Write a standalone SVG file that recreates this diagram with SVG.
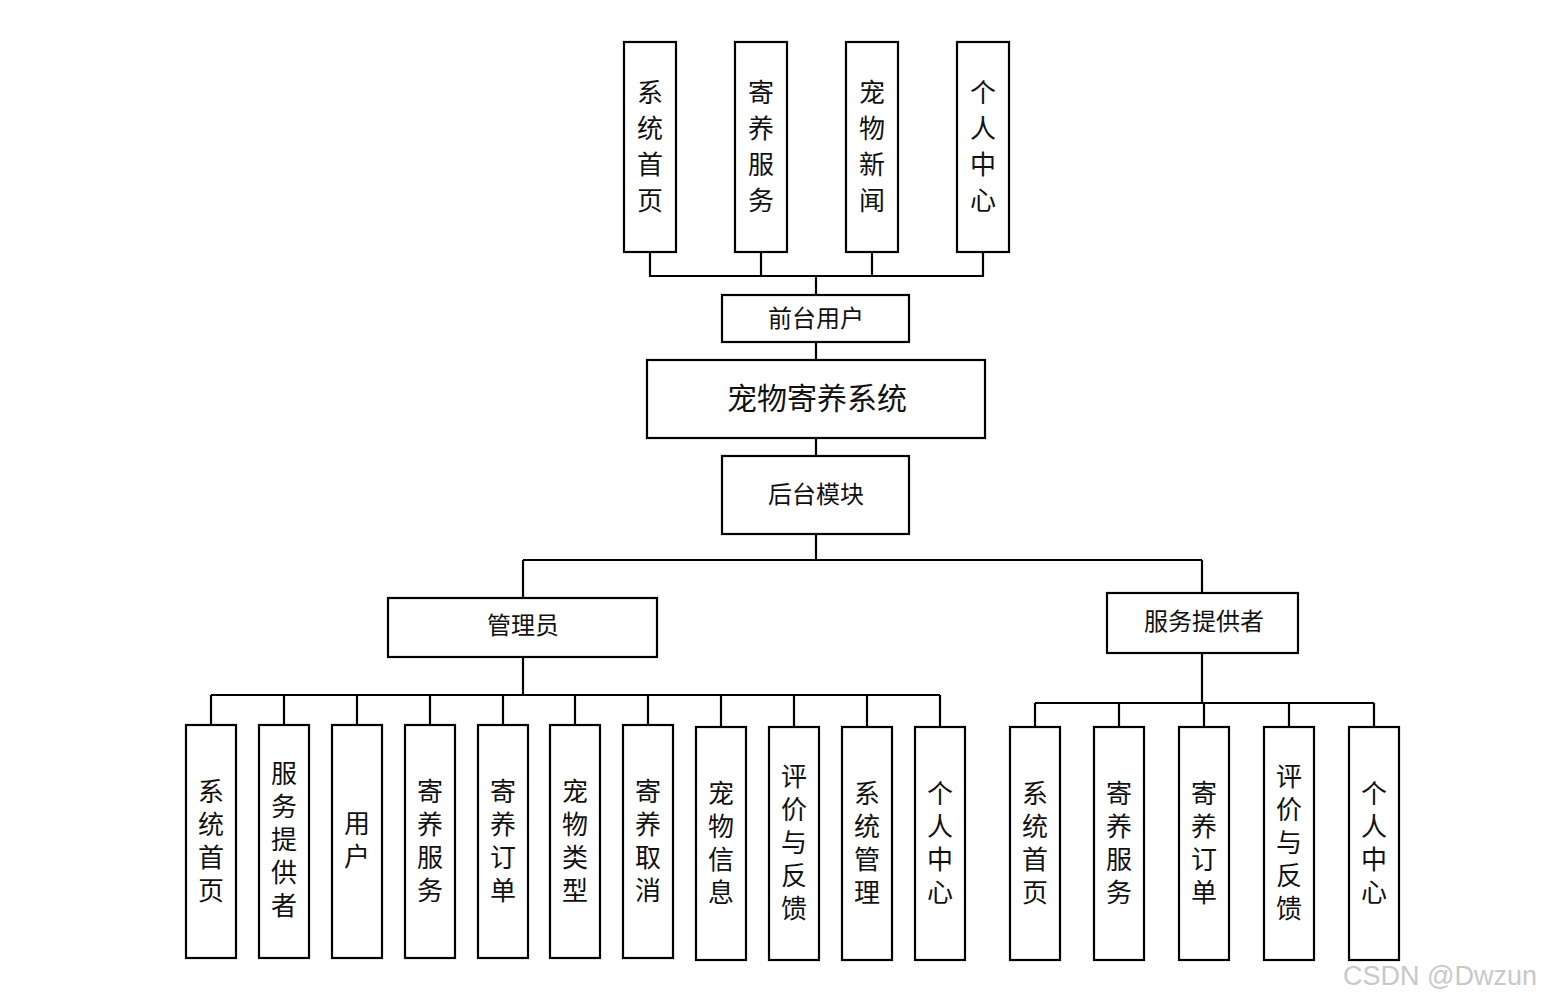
<svg xmlns="http://www.w3.org/2000/svg" width="1541" height="1003" viewBox="0 0 1541 1003">
<style>
.box{fill:#fff;stroke:#000;stroke-width:2.2}
.ln{fill:none;stroke:#000;stroke-width:2.2}
.t{font-family:"Noto Sans CJK SC","Noto Sans CJK JP",sans-serif;fill:#111;text-anchor:middle}
.h{font-size:24px;dominant-baseline:central}
.big{font-size:30px;dominant-baseline:central}
.vt{font-size:26px;writing-mode:vertical-rl;letter-spacing:10px}
.vb{font-size:26px;writing-mode:vertical-rl;letter-spacing:7px}
.wm{font-family:"Liberation Sans",Arial,sans-serif;font-size:27px;fill:#c8c8c8}
</style>
<rect width="1541" height="1003" fill="#fff"/>
<g id="connectors">
<path class="ln" d="M650 252V276H983V252M761 252V276M872 252V276M816 276V295"/>
<path class="ln" d="M816 342V360M816 438V456M816 534V560M523 560H1202M523 560V598M1202 560V593"/>
<path class="ln" d="M523 657V695M211 695H940M211 695V725M284 695V725M357 695V725M430 695V725M503 695V725M575 695V725M648 695V725M721 695V727M794 695V727M867 695V727M940 695V727"/>
<path class="ln" d="M1202 653V703M1035 703H1374M1035 703V727M1119 703V727M1204 703V727M1289 703V727M1374 703V727"/>
</g>
<g id="top1"><rect class="box" x="624" y="42" width="52" height="210"/><text class="t vt" x="650" y="151">系统首页</text></g>
<g id="top2"><rect class="box" x="735" y="42" width="52" height="210"/><text class="t vt" x="761" y="151">寄养服务</text></g>
<g id="top3"><rect class="box" x="846" y="42" width="52" height="210"/><text class="t vt" x="872" y="151">宠物新闻</text></g>
<g id="top4"><rect class="box" x="957" y="42" width="52" height="210"/><text class="t vt" x="983" y="151">个人中心</text></g>
<g id="front"><rect class="box" x="722" y="295" width="187" height="47"/><text class="t h" x="816" y="316">前台用户</text></g>
<g id="system"><rect class="box" x="647" y="360" width="338" height="78"/><text class="t big" x="817" y="396">宠物寄养系统</text></g>
<g id="backend"><rect class="box" x="722" y="456" width="187" height="78"/><text class="t h" x="816" y="492">后台模块</text></g>
<g id="admin"><rect class="box" x="388" y="598" width="269" height="59"/><text class="t h" x="523" y="623">管理员</text></g>
<g id="provider"><rect class="box" x="1107" y="593" width="191" height="60"/><text class="t h" x="1204" y="619">服务提供者</text></g>
<g id="a1"><rect class="box" x="186" y="725" width="50" height="233"/><text class="t vb" x="211" y="844">系统首页</text></g>
<g id="a2"><rect class="box" x="259" y="725" width="50" height="233"/><text class="t vb" x="284" y="843">服务提供者</text></g>
<g id="a3"><rect class="box" x="332" y="725" width="50" height="233"/><text class="t vb" x="357" y="843">用户</text></g>
<g id="a4"><rect class="box" x="405" y="725" width="50" height="233"/><text class="t vb" x="430" y="844">寄养服务</text></g>
<g id="a5"><rect class="box" x="478" y="725" width="50" height="233"/><text class="t vb" x="503" y="844">寄养订单</text></g>
<g id="a6"><rect class="box" x="550" y="725" width="50" height="233"/><text class="t vb" x="575" y="844">宠物类型</text></g>
<g id="a7"><rect class="box" x="623" y="725" width="50" height="233"/><text class="t vb" x="648" y="844">寄养取消</text></g>
<g id="a8"><rect class="box" x="696" y="727" width="50" height="233"/><text class="t vb" x="721" y="846">宠物信息</text></g>
<g id="a9"><rect class="box" x="769" y="727" width="50" height="233"/><text class="t vb" x="794" y="846">评价与反馈</text></g>
<g id="a10"><rect class="box" x="842" y="727" width="50" height="233"/><text class="t vb" x="867" y="846">系统管理</text></g>
<g id="a11"><rect class="box" x="915" y="727" width="50" height="233"/><text class="t vb" x="940" y="846">个人中心</text></g>
<g id="p1"><rect class="box" x="1010" y="727" width="50" height="233"/><text class="t vb" x="1035" y="846">系统首页</text></g>
<g id="p2"><rect class="box" x="1094" y="727" width="50" height="233"/><text class="t vb" x="1119" y="846">寄养服务</text></g>
<g id="p3"><rect class="box" x="1179" y="727" width="50" height="233"/><text class="t vb" x="1204" y="846">寄养订单</text></g>
<g id="p4"><rect class="box" x="1264" y="727" width="50" height="233"/><text class="t vb" x="1289" y="846">评价与反馈</text></g>
<g id="p5"><rect class="box" x="1349" y="727" width="50" height="233"/><text class="t vb" x="1374" y="846">个人中心</text></g>
<text class="wm" x="1343" y="985">CSDN @Dwzun</text>
</svg>
